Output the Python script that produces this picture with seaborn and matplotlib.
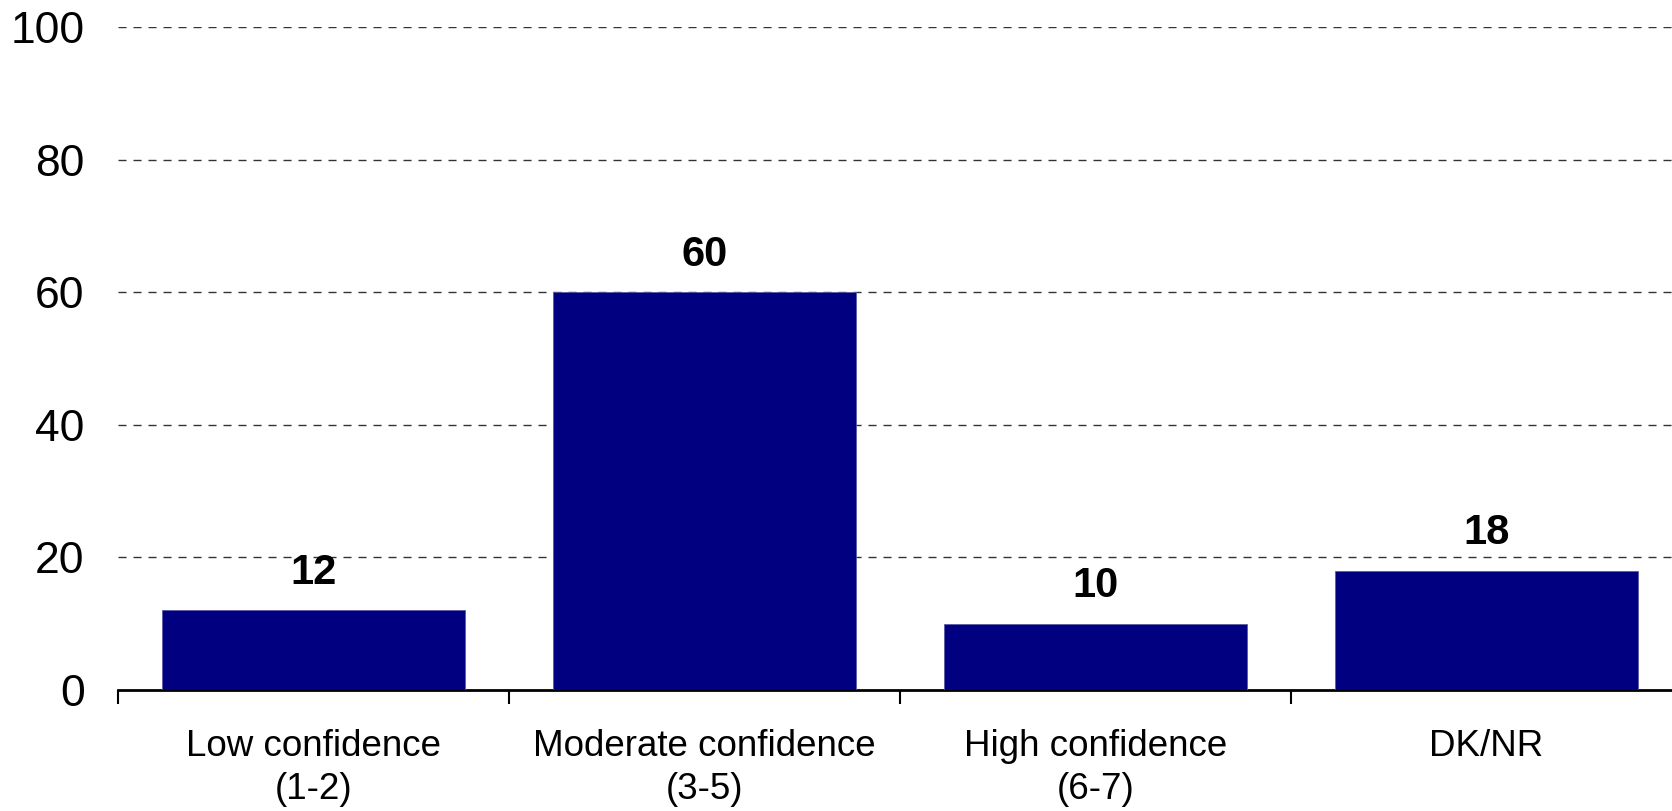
import pandas as pd
import numpy as np
import matplotlib
matplotlib.use('Agg')
import matplotlib.pyplot as plt
import seaborn as sns

categories = ['Low confidence\n(1-2)', 'Moderate confidence\n(3-5)', 'High confidence\n(6-7)', 'DK/NR']
values = [12, 60, 10, 18]
y_ticks = [0, 20, 40, 60, 80, 100]

df = pd.DataFrame({'category': categories, 'percent': values})

sns.set_style('white', {'xtick.bottom': True, 'text.color': 'black',
                        'xtick.color': 'black', 'ytick.color': 'black'})
plt.rcParams['font.family'] = ['Liberation Sans', 'DejaVu Sans']

fig = plt.figure(figsize=(16.72, 8.11), dpi=100)
ax = fig.add_axes([118 / 1672, 121 / 811, 1564 / 1672, 663 / 811])

sns.barplot(data=df, x='category', y='percent', color='#000080', saturation=1,
            width=0.775, edgecolor='#5a5aa8', linewidth=0.6, ax=ax, zorder=3)

ax.set_xlim(-0.5, 3.5)
ax.set_ylim(0, 100)
ax.set_yticks(y_ticks)
ax.set_xlabel('')
ax.set_ylabel('')

for y in y_ticks[1:]:
    ax.axhline(y, color='#333333', lw=1, ls=(0, (5.8, 5)), zorder=1)

for i, v in enumerate(values):
    ax.text(i, v + 2.6, str(v), ha='center', va='bottom', fontsize=30,
            fontweight='bold', color='black')

sns.despine(ax=ax, left=True, right=True, top=True)
ax.spines['bottom'].set_linewidth(2)
ax.spines['bottom'].set_color('black')

ax.tick_params(axis='y', length=0, pad=24, labelsize=32, labelcolor='black')
ax.tick_params(axis='x', which='major', length=0, pad=28, labelsize=26.5, labelcolor='black')
for lbl in ax.get_xticklabels():
    lbl.set_linespacing(1.3)
ax.set_xticks(np.arange(-0.5, 4.0, 1.0), minor=True)
ax.tick_params(axis='x', which='minor', bottom=True, length=10, width=1.5,
               color='black', direction='out')

fig.savefig('out.png', dpi=100)
